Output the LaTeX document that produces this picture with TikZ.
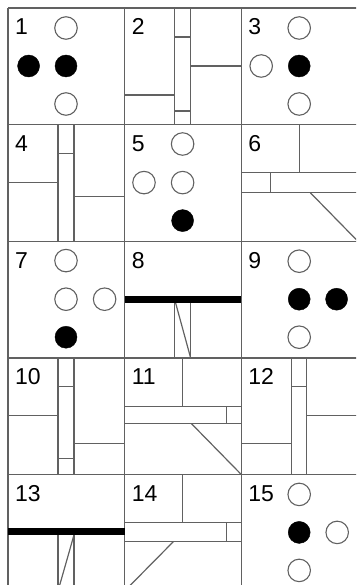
\documentclass[tikz,border=0pt]{standalone}
\usepackage{fontspec}
\setmainfont{Liberation Sans}
\usepackage{tikz}
\usetikzlibrary{positioning}
\definecolor{rulegray}{gray}{0.38}
\newcommand{\panelsize}{116.6}
\tikzset{
grid_line/.style={draw=rulegray, line width=1.4pt},
part_line/.style={draw=rulegray, line width=1.2pt},
heavy_bar/.style={draw=black, line width=7pt},
open_dot/.style={circle, draw=rulegray, line width=1.1pt, fill=white, minimum size=22.5pt, inner sep=0pt},
full_dot/.style={circle, draw=black, fill=black, minimum size=22pt, inner sep=0pt},
panel_num/.style={anchor=base west, inner sep=0pt, font=\fontsize{23}{23}\selectfont}
}

\begin{document}
\begin{tikzpicture}[x=1pt, y=-1pt, node distance=15pt]
\useasboundingbox (0,0) rectangle (356,585);
\clip (0,0) rectangle (356,585);
% frame of the 15 panels
\foreach \i in {0,...,3}
    \draw[grid_line] (8+\i*\panelsize, 8) -- (8+\i*\panelsize, 600);
\foreach \j in {0,...,5}
    \draw[grid_line] (8, 8+\j*\panelsize) -- (370, 8+\j*\panelsize);

% 1
\begin{scope}[shift={(8,8)}]
    \node[panel_num] (num_1) at (7,27) {1};
    \node[full_dot] (d1_mid) at (58,58) {};
    \node[full_dot] (d1_left) [left=of d1_mid] {};
    \node[open_dot] (d1_up) [above=of d1_mid] {};
    \node[open_dot] (d1_down) [below=of d1_mid] {};
\end{scope}
% 2
\begin{scope}[shift={(124.6,8)}]
    \draw[part_line] (50,0) -- (50,\panelsize) (66,0) -- (66,\panelsize);
    \draw[part_line] (0,87) -- (50,87) (66,58) -- (\panelsize,58);
    \draw[part_line] (50,29) -- (66,29) (50,103) -- (66,103);
    \node[panel_num] (num_2) at (7,27) {2};
\end{scope}
% 3
\begin{scope}[shift={(241.2,8)}]
    \node[panel_num] (num_3) at (7,27) {3};
    \node[full_dot] (d3_mid) at (58,58) {};
    \node[open_dot] (d3_left) [left=of d3_mid] {};
    \node[open_dot] (d3_up) [above=of d3_mid] {};
    \node[open_dot] (d3_down) [below=of d3_mid] {};
\end{scope}
% 4
\begin{scope}[shift={(8,124.6)}]
    \draw[part_line] (50,0) -- (50,\panelsize) (66,0) -- (66,\panelsize);
    \draw[part_line] (0,58) -- (50,58) (66,72) -- (\panelsize,72);
    \draw[part_line] (50,29) -- (66,29);
    \node[panel_num] (num_4) at (7,27) {4};
\end{scope}
% 5
\begin{scope}[shift={(124.6,124.6)}]
    \node[panel_num] (num_5) at (7,27) {5};
    \node[open_dot] (d5_mid) at (58,58) {};
    \node[open_dot] (d5_left) [left=of d5_mid] {};
    \node[open_dot] (d5_up) [above=of d5_mid] {};
    \node[full_dot] (d5_down) [below=of d5_mid] {};
\end{scope}
% 6
\begin{scope}[shift={(241.2,124.6)}]
    \draw[part_line] (58,0) -- (58,48);
    \draw[part_line] (0,48) -- (\panelsize,48) (0,68) -- (\panelsize,68);
    \draw[part_line] (29,48) -- (29,68);
    \draw[part_line] (69,68) -- (\panelsize,\panelsize);
    \node[panel_num] (num_6) at (7,27) {6};
\end{scope}
% 7
\begin{scope}[shift={(8,241.2)}]
    \node[panel_num] (num_7) at (7,27) {7};
    \node[open_dot] (d7_mid) at (58,58) {};
    \node[open_dot] (d7_right) [right=of d7_mid] {};
    \node[open_dot] (d7_up) [above=of d7_mid] {};
    \node[full_dot] (d7_down) [below=of d7_mid] {};
\end{scope}
% 8
\begin{scope}[shift={(124.6,241.2)}]
    \draw[part_line] (50,58) -- (50,\panelsize) (66,58) -- (66,\panelsize);
    \draw[part_line] (50,58) -- (66,\panelsize);
    \draw[heavy_bar] (0,58) -- (\panelsize,58);
    \node[panel_num] (num_8) at (7,27) {8};
\end{scope}
% 9
\begin{scope}[shift={(241.2,241.2)}]
    \node[panel_num] (num_9) at (7,27) {9};
    \node[full_dot] (d9_mid) at (58,58) {};
    \node[full_dot] (d9_right) [right=of d9_mid] {};
    \node[open_dot] (d9_up) [above=of d9_mid] {};
    \node[open_dot] (d9_down) [below=of d9_mid] {};
\end{scope}
% 10
\begin{scope}[shift={(8,357.8)}]
    \draw[part_line] (50,0) -- (50,\panelsize) (66,0) -- (66,\panelsize);
    \draw[part_line] (0,58) -- (50,58) (66,86) -- (\panelsize,86);
    \draw[part_line] (50,29) -- (66,29) (50,101) -- (66,101);
    \node[panel_num] (num_10) at (7,27) {10};
\end{scope}
% 11
\begin{scope}[shift={(124.6,357.8)}]
    \draw[part_line] (58,0) -- (58,49);
    \draw[part_line] (0,49) -- (\panelsize,49) (0,66) -- (\panelsize,66);
    \draw[part_line] (102,49) -- (102,66);
    \draw[part_line] (67,66) -- (\panelsize,\panelsize);
    \node[panel_num] (num_11) at (7,27) {11};
\end{scope}
% 12
\begin{scope}[shift={(241.2,357.8)}]
    \draw[part_line] (50,0) -- (50,\panelsize) (65,0) -- (65,\panelsize);
    \draw[part_line] (0,86) -- (50,86) (65,58) -- (\panelsize,58);
    \draw[part_line] (50,29) -- (65,29);
    \node[panel_num] (num_12) at (7,27) {12};
\end{scope}
% 13
\begin{scope}[shift={(8,474.4)}]
    \draw[part_line] (50,57) -- (50,\panelsize) (66,57) -- (66,\panelsize);
    \draw[part_line] (67,57) -- (50,\panelsize);
    \draw[heavy_bar] (0,57) -- (\panelsize,57);
    \node[panel_num] (num_13) at (7,27) {13};
\end{scope}
% 14
\begin{scope}[shift={(124.6,474.4)}]
    \draw[part_line] (58,0) -- (58,48);
    \draw[part_line] (0,48) -- (\panelsize,48) (0,67) -- (\panelsize,67);
    \draw[part_line] (102,48) -- (102,67);
    \draw[part_line] (49,67) -- (0,\panelsize);
    \node[panel_num] (num_14) at (7,27) {14};
\end{scope}
% 15
\begin{scope}[shift={(241.2,474.4)}]
    \node[panel_num] (num_15) at (7,27) {15};
    \node[full_dot] (d15_mid) at (58,58) {};
    \node[open_dot] (d15_right) [right=of d15_mid] {};
    \node[open_dot] (d15_up) [above=of d15_mid] {};
    \node[open_dot] (d15_down) [below=of d15_mid] {};
\end{scope}
\end{tikzpicture}
\end{document}
